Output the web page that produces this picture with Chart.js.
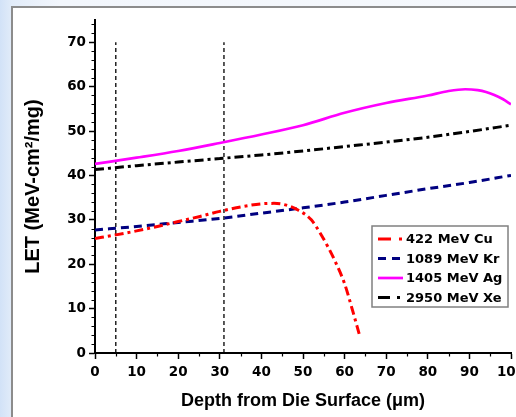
<!DOCTYPE html>
<html>
<head>
<meta charset="utf-8">
<script src="https://cdn.jsdelivr.net/npm/chart.js@4.4.1/dist/chart.umd.min.js"></script>
<style>
  html, body { margin: 0; padding: 0; width: 516px; height: 417px; overflow: hidden; }
  body { position: relative; background: linear-gradient(to right, #d2e2f7 0px, #e2ecf9 12px, #f2f6fc 60px, #f5f8fc 100%); }
  #panel { position: absolute; left: 11px; top: 6px; width: 540px; height: 420px; background: #fff;
           border-left: 2px solid #8c8c8c; border-top: 2px solid #8c8c8c; }
  #wrap { position: absolute; left: 0; top: 0; }
</style>
</head>
<body>
<div id="panel"></div>
<div id="wrap"><canvas id="chartLET" width="545" height="417"></canvas></div>
<script>
// depth (um) and LET (MeV-cm2/mg)
const cuDepth = [0, 5, 10, 15, 20, 25, 30, 35, 40, 43, 46, 49, 52, 54, 56, 58, 60, 62, 63.5];
const cuLET   = [25.8, 26.6, 27.5, 28.5, 29.6, 30.7, 31.9, 32.9, 33.6, 33.7, 33.3, 32.1, 30.0, 27.2, 23.9, 20.1, 15.6, 9.3, 4.3];

const krDepth = [0, 10, 20, 30, 40, 50, 60, 70, 80, 90, 100];
const krLET   = [27.7, 28.5, 29.4, 30.3, 31.5, 32.7, 34.0, 35.5, 37.0, 38.4, 40.0];

const agDepth = [0, 10, 20, 30, 40, 50, 60, 70, 80, 85, 89, 92, 94, 96, 98, 100];
const agLET   = [42.6, 44.0, 45.5, 47.3, 49.2, 51.3, 54.1, 56.3, 58.0, 59.0, 59.4, 59.2, 58.8, 58.1, 57.2, 56.0];

const xeDepth = [0, 10, 20, 30, 40, 50, 60, 70, 80, 90, 100];
const xeLET   = [41.3, 42.2, 43.0, 43.8, 44.6, 45.5, 46.5, 47.5, 48.6, 49.9, 51.3];

// dotted guide lines
const markerDepth = [5, 31];
const markerTop = 70;

const xTicks = [0, 10, 20, 30, 40, 50, 60, 70, 80, 90, 100];
const yTicks = [0, 10, 20, 30, 40, 50, 60, 70];

const seriesLabels = ['422 MeV Cu', '1089 MeV Kr', '1405 MeV Ag', '2950 MeV Xe'];

const toPoints = (xs, ys) => xs.map((v, i) => ({ x: v, y: ys[i] }));

Chart.defaults.font.family = "'DejaVu Sans', sans-serif";
Chart.defaults.font.weight = 'bold';
Chart.defaults.color = '#000';

const datasets = [
    {
        label: seriesLabels[0], data: toPoints(cuDepth, cuLET),
        borderColor: '#ff0000', borderWidth: 3, borderDash: [9, 4, 3, 4], sampleDash: [13, 8, 3, 40]
    },
    {
        label: seriesLabels[1], data: toPoints(krDepth, krLET),
        borderColor: '#000080', borderWidth: 3, borderDash: [8, 5], sampleDash: [8, 6]
    },
    {
        label: seriesLabels[2], data: toPoints(agDepth, agLET),
        borderColor: '#ff00ff', borderWidth: 2.7, borderDash: [], sampleDash: []
    },
    {
        label: seriesLabels[3], data: toPoints(xeDepth, xeLET),
        borderColor: '#000000', borderWidth: 3, borderDash: [9, 4, 3, 4], sampleDash: [12, 7, 3, 40]
    }
];
datasets.forEach(d => {
    d.pointRadius = 0;
    d.fill = false;
    d.cubicInterpolationMode = 'monotone';
    d.inLegend = true;
});

markerDepth.forEach(v => {
    datasets.push({
        label: 'marker', data: [{ x: v, y: 0 }, { x: v, y: markerTop }],
        borderColor: '#000', borderWidth: 1.3, borderDash: [4, 3], pointRadius: 0, inLegend: false
    });
});

// small ticks between the labelled ones
const minorTicks = {
    id: 'minorTicks',
    afterDraw(chart) {
        const { ctx } = chart;
        const x = chart.scales.x, y = chart.scales.y;
        ctx.save();
        ctx.strokeStyle = '#000';
        ctx.lineWidth = 1.2;
        ctx.beginPath();
        for (let v = 5; v < x.max; v += 10) {
            const px = Math.round(x.getPixelForValue(v)) + 0.5;
            ctx.moveTo(px, x.top);
            ctx.lineTo(px, x.top + 3.5);
        }
        for (let v = 2; v < y.max; v += 2) {
            if (v % 10 === 0) continue;
            const py = Math.round(y.getPixelForValue(v)) + 0.5;
            ctx.moveTo(y.right - 3.5, py);
            ctx.lineTo(y.right, py);
        }
        ctx.stroke();
        ctx.restore();
    }
};

// boxed legend sitting inside the plot
const boxLegend = {
    id: 'boxLegend',
    afterDraw(chart) {
        const { ctx, chartArea } = chart;
        const w = 136, h = 81;
        const left = chartArea.right - w - 3;
        const top = 226;
        ctx.save();
        ctx.fillStyle = '#fff';
        ctx.fillRect(left, top, w, h);
        ctx.strokeStyle = '#808080';
        ctx.lineWidth = 1.5;
        ctx.strokeRect(left, top, w, h);
        ctx.font = "bold 13px 'DejaVu Sans', sans-serif";
        ctx.textBaseline = 'middle';
        chart.data.datasets.filter(d => d.inLegend).forEach((d, i) => {
            const cy = top + 13 + i * 19.5;
            ctx.strokeStyle = d.borderColor;
            ctx.lineWidth = d.borderWidth;
            ctx.setLineDash(d.sampleDash);
            ctx.beginPath();
            ctx.moveTo(left + 6, cy);
            ctx.lineTo(left + 31, cy);
            ctx.stroke();
            ctx.setLineDash([]);
            ctx.fillStyle = '#000';
            ctx.fillText(d.label, left + 34, cy + 1);
        });
        ctx.restore();
    }
};

new Chart(document.getElementById('chartLET').getContext('2d'), {
    type: 'line',
    data: { datasets: datasets },
    options: {
        responsive: false,
        animation: false,
        layout: { padding: { left: 0, top: 20, right: 34, bottom: 0 } },
        plugins: { legend: { display: false }, tooltip: { enabled: false } },
        scales: {
            x: {
                type: 'linear', min: 0, max: 100,
                afterBuildTicks: s => { s.ticks = xTicks.map(v => ({ value: v })); },
                afterFit: s => { s.height = 64; s.paddingLeft = 0; s.paddingRight = 0; },
                ticks: { autoSkip: false, maxRotation: 0, padding: 5, font: { size: 13.5 } },
                grid: { drawOnChartArea: false, drawTicks: true, tickLength: 6, tickWidth: 1.5, tickColor: '#000' },
                border: { color: '#000', width: 2 },
                title: {
                    display: true, text: 'Depth from Die Surface (\u03bcm)',
                    font: { family: "'Liberation Sans', Arial, sans-serif", size: 18 },
                    padding: { top: 0, bottom: 5 }
                }
            },
            y: {
                type: 'linear', min: 0, max: 75,
                afterBuildTicks: s => { s.ticks = yTicks.map(v => ({ value: v })); },
                afterFit: s => { s.width = 95; s.paddingTop = 0; s.paddingBottom = 0; },
                ticks: { padding: 3, font: { size: 13.5 } },
                grid: { drawOnChartArea: false, drawTicks: true, tickLength: 6, tickWidth: 1.5, tickColor: '#000' },
                border: { color: '#000', width: 2 },
                title: {
                    display: true, text: 'LET (MeV-cm\u00b2/mg)',
                    font: { family: "'Liberation Sans', Arial, sans-serif", size: 20 },
                    padding: { top: 21, bottom: 0 }
                }
            }
        }
    },
    plugins: [minorTicks, boxLegend]
});
</script>
</body>
</html>
